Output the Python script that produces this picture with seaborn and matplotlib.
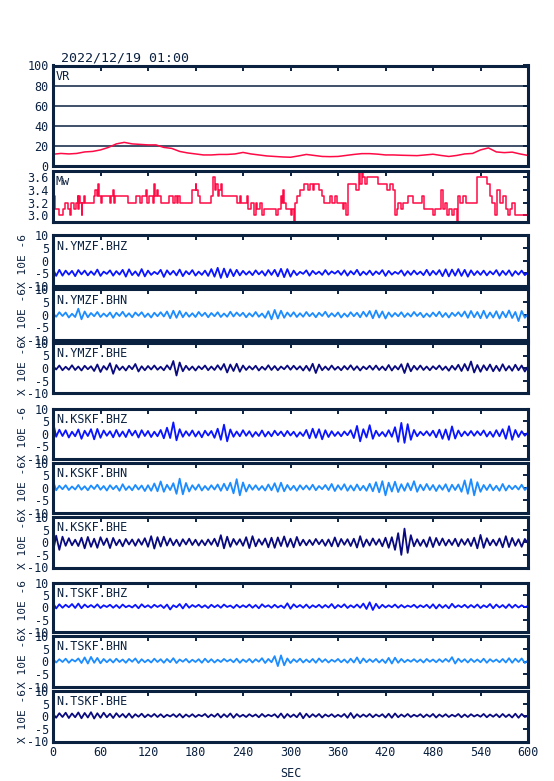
import numpy as np
import pandas as pd
import matplotlib
matplotlib.use("Agg")
import matplotlib.pyplot as plt
import seaborn as sns

# ---- data ----
title = "2022/12/19 01:00"
sec_ticks = [0, 60, 120, 180, 240, 300, 360, 420, 480, 540, 600]

# variance reduction, every 10 s
vr_time = list(range(0, 601, 10))
vr_values = [11.7, 12.5, 12.0, 12.5, 14.0, 14.5, 16.0, 18.5, 22.0, 23.5,
             22.0, 21.5, 21.0, 21.0, 18.5, 17.5, 14.5, 13.0, 12.0, 11.0,
             11.0, 11.5, 11.5, 12.0, 13.5, 12.0, 11.0, 10.0, 9.5, 9.0,
             8.7, 10.0, 11.5, 10.5, 9.5, 9.3, 9.5, 10.5, 11.5, 12.3,
             12.3, 11.8, 11.0, 11.0, 10.7, 10.5, 10.3, 11.0, 11.7, 10.5,
             9.5, 10.5, 12.0, 12.5, 16.0, 18.0, 14.0, 13.3, 13.8, 12.0,
             10.5]

# moment magnitude, step series (change times and values)
mw_time = [0, 1, 2, 8, 12, 15, 19, 21, 23, 27, 29, 31, 32, 33, 34, 36, 37, 39, 40, 52,
           53, 55, 57, 58, 60, 62, 72, 73, 76, 77, 78, 95, 105, 110, 112, 118, 119, 121, 126, 128,
           129, 131, 132, 136, 146, 152, 154, 156, 158, 160, 176, 180, 181, 183, 186, 200, 202, 204, 206, 208,
           210, 212, 214, 233, 236, 238, 245, 246, 250, 254, 256, 258, 262, 264, 266, 282, 284, 288, 289, 291,
           292, 294, 300, 302, 304, 306, 308, 312, 317, 322, 324, 328, 330, 336, 340, 342, 350, 352, 356, 359,
           366, 368, 370, 372, 383, 386, 388, 390, 392, 394, 396, 410, 422, 426, 430, 432, 434, 436, 440, 442,
           449, 455, 466, 468, 480, 482, 490, 492, 495, 498, 500, 504, 506, 510, 511, 514, 518, 522, 535, 548,
           552, 555, 558, 561, 565, 568, 572, 575, 577, 580, 583, 600]
mw_values = [3.7, 3.3, 3.1, 3.0, 3.1, 3.2, 3.1, 3.0, 3.2, 3.1, 3.2, 3.3, 3.1, 3.3, 3.2, 3.0, 3.2, 3.3, 3.2, 3.3,
             3.4, 3.3, 3.5, 3.3, 3.2, 3.3, 3.2, 3.3, 3.4, 3.2, 3.3, 3.2, 3.3, 3.2, 3.3, 3.4, 3.2, 3.3, 3.2, 3.5,
             3.3, 3.4, 3.3, 3.2, 3.3, 3.2, 3.3, 3.2, 3.3, 3.2, 3.4, 3.5, 3.4, 3.3, 3.2, 3.3, 3.6, 3.4, 3.5, 3.3,
             3.4, 3.5, 3.3, 3.2, 3.3, 3.2, 3.3, 3.1, 3.2, 3.0, 3.2, 3.1, 3.2, 3.0, 3.1, 3.0, 3.1, 3.3, 3.2, 3.4,
             3.2, 3.1, 3.0, 3.1, 2.9, 3.2, 3.3, 3.4, 3.5, 3.4, 3.5, 3.4, 3.5, 3.4, 3.3, 3.2, 3.3, 3.2, 3.3, 3.2,
             3.1, 3.2, 3.0, 3.5, 3.4, 3.7, 3.5, 3.7, 3.6, 3.5, 3.6, 3.5, 3.4, 3.5, 3.4, 3.0, 3.1, 3.2, 3.1, 3.2,
             3.3, 3.2, 3.3, 3.1, 3.0, 3.1, 3.4, 3.1, 3.2, 3.0, 3.1, 3.0, 3.1, 2.9, 3.3, 3.2, 3.3, 3.2, 3.6, 3.5,
             3.3, 3.2, 3.0, 3.4, 3.2, 3.3, 3.1, 3.0, 3.1, 3.2, 3.0, 3.0]

# waveforms (X 10E -6), one sample every 4 s
sample_step = 4
ymzf_bhz = [-3.2, -6.0, -3.6, -5.9, -3.9, -5.5, -4.0, -6.1, -3.7, -5.4,
            -3.9, -5.8, -4.2, -5.6, -3.5, -6.0, -4.3, -5.2, -3.8, -5.9,
            -4.1, -5.5, -3.6, -6.3, -3.4, -5.7, -4.2, -6.0, -3.3, -6.2,
            -3.9, -5.6, -4.4, -5.3, -3.6, -6.4, -3.8, -5.5, -4.0, -5.8,
            -3.5, -6.1, -4.1, -5.4, -3.7, -5.9, -4.3, -5.6, -3.9, -6.0,
            -3.3, -6.3, -2.8, -6.8, -3.1, -6.5, -3.4, -6.1, -3.6, -5.8,
            -4.0, -5.5, -4.2, -5.7, -3.8, -5.4, -4.1, -5.9, -3.7, -5.6,
            -3.6, -6.2, -3.2, -6.5, -3.3, -6.3, -3.9, -5.7, -4.4, -5.2,
            -3.8, -5.9, -4.0, -5.3, -4.3, -5.6, -3.7, -5.5, -4.2, -5.1,
            -4.0, -5.6, -3.8, -5.9, -4.1, -5.4, -3.6, -5.8, -4.3, -5.5,
            -3.9, -5.7, -4.2, -5.3, -3.7, -6.0, -4.0, -5.5, -4.4, -5.2,
            -3.8, -5.9, -4.1, -5.6, -3.9, -5.4, -4.3, -5.7, -3.6, -5.8,
            -4.0, -5.5, -3.7, -6.1, -3.4, -6.2, -3.5, -5.9, -3.3, -6.0,
            -3.6, -6.3, -3.8, -5.7, -4.1, -5.6, -3.9, -5.8, -4.2, -5.4,
            -3.7, -5.9, -4.0, -5.6, -3.8, -6.0, -4.1, -5.5, -3.9, -5.7, -4.6]
ymzf_bhn = [0.6, -0.8, 1.0, -0.5, 0.9, -1.1, 0.4, -0.9, 2.4, -1.8,
            1.3, -1.0, 0.7, -0.6, 1.1, -0.9, 0.5, -0.7, 0.9, -1.2,
            0.8, -0.5, 1.2, -0.8, 0.6, -1.0, 0.9, -0.4, 1.0, -0.9,
            0.5, -1.1, 0.8, -0.6, 1.0, -0.7, 1.3, -1.4, 1.6, -1.2,
            1.5, -1.0, 0.9, -0.8, 0.6, -0.9, 1.1, -0.5, 0.8, -1.0,
            0.7, -0.6, 1.0, -0.9, 0.5, -0.8, 1.2, -0.7, 0.9, -0.5,
            0.8, -1.0, 0.6, -0.7, 1.1, -0.8, 0.5, -1.2, 1.4, -1.8,
            1.9, -1.5, 1.6, -1.2, 0.9, -0.7, 1.0, -0.9, 0.6, -0.8,
            1.1, -0.6, 0.7, -1.0, 0.8, -0.5, 1.2, -0.9, 0.6, -0.7,
            0.9, -1.1, 0.5, -0.8, 1.0, -0.6, 0.8, -1.0, 1.2, -0.7,
            1.5, -1.4, 1.7, -1.1, 1.3, -1.5, 0.9, -0.8, 0.7, -0.6,
            1.0, -0.9, 0.6, -0.7, 1.1, -0.5, 0.8, -1.0, 0.5, -0.8,
            0.9, -0.6, 1.2, -0.9, 0.7, -1.1, 0.8, -0.5, 1.0, -0.7,
            1.3, -1.2, 1.5, -1.0, 1.1, -1.4, 1.6, -1.3, 0.9, -1.1,
            1.4, -1.5, 1.2, -1.0, 1.7, -1.3, 1.1, -2.5, 1.5, -1.2, 0.3]
ymzf_bhe = [0.8, -0.6, 1.0, -0.9, 0.5, -0.7, 1.1, -0.8, 0.6, -1.0,
            0.9, -0.5, 0.7, -1.2, 1.4, -1.6, 0.8, -0.7, 1.9, -2.3,
            1.2, -0.8, 0.6, -1.0, 0.9, -0.5, 1.6, -1.4, 0.7, -0.9,
            0.8, -0.6, 1.0, -0.7, 0.5, -0.9, 1.1, -0.6, 2.8, -3.0,
            2.2, -1.3, 0.9, -0.8, 0.6, -1.0, 0.7, -0.5, 1.0, -0.9,
            0.6, -0.8, 1.1, -0.7, 1.6, -1.8, 1.4, -1.2, 1.7, -1.5,
            1.0, -0.8, 0.7, -0.6, 0.9, -1.0, 0.5, -0.7, 1.1, -0.8,
            0.8, -0.9, 0.6, -0.5, 1.0, -0.7, 0.9, -0.6, 0.7, -1.0,
            0.9, -1.1, 1.7, -2.0, 1.4, -0.9, 0.6, -0.8, 1.0, -0.7,
            0.5, -0.9, 0.8, -0.6, 1.1, -0.8, 0.7, -1.0, 0.6, -0.5,
            0.9, -0.7, 1.0, -0.8, 0.6, -0.9, 1.2, -1.0, 0.8, -0.6,
            1.5, -2.0, 1.8, -1.3, 0.9, -0.7, 1.0, -0.8, 0.6, -0.9,
            0.7, -0.5, 1.0, -0.8, 0.6, -1.1, 0.9, -0.7, 1.3, -1.2,
            1.6, -1.0, 2.6, -1.8, 1.2, -1.5, 1.1, -0.9, 1.4, -1.3,
            0.9, -1.2, 1.5, -1.0, 0.8, -1.1, 1.3, -0.9, 1.0, -1.4, 0.6]
kskf_bhz = [4.8, -1.2, 1.6, -0.9, 1.4, -1.5, 0.8, -1.0, 1.7, -2.0,
            1.2, -0.9, 1.8, -2.2, 1.9, -1.6, 1.3, -0.8, 1.0, -1.4,
            1.5, -1.1, 0.9, -1.3, 1.6, -0.7, 1.2, -1.5, 1.4, -0.9,
            1.1, -1.3, 0.8, -1.0, 1.5, -1.8, 2.4, -1.7, 4.5, -2.6,
            1.8, -1.2, 1.0, -0.8, 1.3, -1.1, 0.9, -1.4, 1.2, -0.7,
            1.1, -1.6, 2.0, -2.4, 3.6, -3.0, 1.7, -1.2, 0.9, -1.0,
            1.4, -0.8, 1.0, -1.2, 0.7, -0.9, 1.3, -1.1, 0.8, -1.0,
            1.2, -0.6, 0.9, -1.0, 1.1, -0.7, 0.8, -1.2, 0.6, -0.9,
            1.5, -1.8, 2.0, -1.6, 1.8, -2.2, 1.4, -1.3, 1.0, -0.9,
            0.7, -1.0, 0.9, -0.6, 1.4, -1.7, 3.1, -3.0, 1.8, -1.5,
            3.4, -2.0, 1.2, -0.9, 0.7, -1.1, 1.4, -1.2, 2.6, -3.2,
            4.3, -3.6, 3.8, -2.4, 1.5, -1.0, 0.8, -0.6, 1.0, -0.8,
            1.2, -1.4, 1.6, -2.0, 1.7, -2.4, 2.9, -1.9, 1.3, -1.0,
            0.9, -0.7, 1.1, -0.8, 1.0, -0.6, 1.3, -1.1, 0.8, -1.2,
            1.4, -1.0, 1.8, -2.0, 3.0, -2.4, 1.5, -1.3, 1.0, -0.8, 0.5]
kskf_bhn = [2.8, -1.0, 0.8, -0.6, 1.0, -0.9, 0.5, -0.7, 1.1, -0.8,
            0.6, -1.0, 0.9, -0.5, 1.2, -0.8, 0.7, -1.1, 1.0, -0.6,
            0.8, -1.2, 1.4, -0.9, 0.6, -1.0, 1.1, -0.7, 0.9, -1.3,
            1.0, -1.2, 1.7, -1.4, 2.5, -1.6, 1.2, -0.9, 1.8, -2.4,
            3.6, -2.6, 1.9, -1.5, 1.0, -0.8, 1.3, -1.1, 0.7, -0.9,
            1.0, -0.7, 1.3, -1.2, 1.6, -1.0, 2.0, -2.2, 3.4, -3.0,
            2.1, -1.5, 1.2, -0.8, 1.0, -0.9, 0.7, -1.1, 1.3, -1.0,
            1.8, -1.6, 2.0, -1.4, 1.1, -0.9, 0.8, -1.2, 1.0, -0.7,
            0.9, -0.8, 1.2, -1.0, 0.7, -0.6, 1.1, -0.9, 1.5, -1.3,
            1.0, -0.8, 1.4, -1.2, 0.9, -1.1, 1.3, -1.0, 0.8, -1.2,
            1.6, -1.4, 2.2, -1.8, 2.6, -3.0, 2.0, -1.5, 2.4, -1.7,
            1.4, -1.2, 1.8, -1.0, 2.6, -1.6, 1.2, -1.0, 1.5, -0.9,
            1.1, -1.3, 1.0, -0.8, 1.4, -1.5, 1.2, -0.9, 1.3, -1.6,
            2.9, -2.4, 3.4, -3.0, 2.2, -1.6, 1.1, -0.9, 1.3, -1.0,
            0.8, -1.2, 1.5, -1.1, 0.9, -0.6, 0.8, -0.7, 1.2, -0.9, 0.4]
kskf_bhe = [-3.8, 2.6, -3.0, 2.2, -1.4, 1.6, -1.2, 1.0, -1.5, 1.8,
            -2.4, 2.1, -1.8, 1.4, -2.2, 2.0, -1.1, 1.5, -2.3, 1.7,
            -1.2, 1.0, -1.6, 1.3, -0.9, 1.1, -1.4, 1.2, -1.0, 1.6,
            -1.8, 2.4, -2.5, 2.0, -1.7, 2.2, -1.3, 1.5, -1.2, 1.0,
            -1.5, 1.2, -0.9, 1.4, -1.1, 1.0, -1.3, 0.8, -1.2, 1.1,
            -1.0, 1.4, -1.6, 2.8, -2.4, 2.2, -1.8, 1.3, -1.0, 1.2,
            -1.4, 2.0, -2.3, 2.4, -1.6, 1.2, -1.0, 1.5, -2.0, 1.8,
            -2.2, 1.9, -1.5, 2.3, -1.8, 1.4, -2.0, 2.1, -1.3, 1.0,
            -1.2, 0.9, -1.1, 1.3, -0.8, 1.0, -1.4, 1.1, -1.6, 1.9,
            -1.7, 1.3, -1.0, 1.2, -1.5, 1.4, -2.1, 2.4, -1.8, 1.1,
            -1.3, 1.5, -1.0, 1.2, -1.6, 1.8, -2.2, 2.0, -3.0, 3.6,
            -5.0, 5.4, -4.2, 2.8, -1.6, 1.2, -1.4, 1.0, -1.8, 2.0,
            -1.9, 1.7, -1.2, 1.5, -1.3, 1.0, -1.1, 1.4, -1.6, 1.2,
            -1.0, 1.3, -1.5, 1.8, -2.4, 2.9, -2.2, 1.6, -1.2, 1.0,
            -1.3, 1.5, -2.0, 2.4, -1.9, 1.7, -1.4, 1.2, -1.8, 1.3, -0.4]
tskf_bhz = [1.8, -0.5, 1.2, -0.2, 1.0, 0.0, 1.3, -0.3, 1.5, -0.4,
            1.1, 0.0, 0.9, -0.1, 1.2, -0.3, 0.8, 0.1, 1.0, -0.2,
            0.9, -0.3, 1.1, 0.0, 0.7, -0.1, 1.0, -0.4, 1.2, 0.0,
            0.8, -0.2, 1.0, 0.1, 0.9, -0.3, 1.1, -0.9, 0.8, 0.0,
            1.3, -0.5, 1.4, -0.2, 0.9, 0.1, 1.0, -0.1, 0.8, -0.3,
            1.0, 0.0, 0.9, -0.2, 1.1, 0.1, 0.7, -0.3, 1.0, -0.1,
            0.8, 0.0, 1.1, -0.2, 0.9, -0.4, 1.2, 0.1, 0.8, -0.2,
            1.0, -0.1, 0.7, -0.3, 1.6, -0.6, 1.2, 0.0, 0.9, -0.2,
            1.1, -0.3, 0.8, 0.0, 1.0, -0.2, 0.9, -0.1, 1.3, -0.4,
            0.9, 0.0, 1.2, -0.3, 0.8, -0.1, 1.1, -0.2, 1.5, -0.7,
            2.0, -1.1, 1.4, -0.4, 1.0, -0.1, 0.8, 0.0, 1.1, -0.2,
            0.9, -0.1, 0.7, 0.1, 1.0, -0.2, 0.8, 0.0, 1.0, -0.3,
            1.2, -0.5, 1.1, -0.2, 0.9, -0.4, 1.4, -0.1, 0.8, 0.0,
            1.0, -0.2, 0.9, -0.1, 1.1, -0.3, 0.8, 0.0, 1.3, -0.4,
            1.1, -0.1, 0.9, -0.3, 1.2, -0.2, 1.0, -0.1, 0.8, 0.0, 0.5]
tskf_bhn = [1.0, -0.4, 0.9, -0.2, 1.1, -0.5, 0.8, 0.0, 1.2, -0.6,
            1.6, -0.8, 1.8, -0.5, 1.4, -0.7, 1.0, -0.3, 0.9, -0.4,
            1.1, -0.2, 0.8, -0.5, 1.0, -0.1, 1.2, -0.6, 0.9, -0.3,
            0.7, -0.4, 1.1, -0.2, 0.9, -0.5, 1.0, -0.3, 1.3, -0.6,
            0.8, -0.1, 1.0, -0.4, 0.7, -0.2, 0.9, -0.5, 1.1, -0.3,
            0.9, -0.4, 0.7, -0.2, 1.0, 0.0, 0.8, -0.3, 1.1, -0.5,
            0.8, -0.2, 1.0, -0.4, 0.9, -0.1, 1.3, -0.6, 1.0, -0.3,
            2.1, -1.8, 2.4, -1.5, 1.2, -0.6, 0.9, -0.2, 1.1, -0.4,
            0.8, -0.3, 1.0, -0.5, 1.2, -0.2, 0.9, -0.4, 0.7, -0.1,
            1.0, -0.3, 0.8, -0.5, 1.1, -0.4, 1.6, -0.7, 1.2, -0.3,
            0.9, -0.2, 1.0, -0.4, 0.8, -0.6, 1.4, -0.8, 1.5, -0.5,
            1.0, -0.3, 0.7, -0.1, 0.9, -0.2, 0.8, -0.4, 1.0, -0.1,
            0.8, -0.3, 0.9, -0.2, 1.0, -0.1, 1.7, -0.8, 1.1, -0.2,
            0.9, -0.4, 1.0, -0.2, 0.8, -0.3, 1.1, -0.5, 0.9, -0.1,
            0.8, -0.3, 1.0, -0.4, 1.3, -0.5, 1.1, -0.2, 1.2, -0.6, 0.4]
tskf_bhe = [1.0, -0.6, 1.2, -0.3, 1.4, -0.7, 1.1, -0.4, 1.5, -0.8,
            1.3, -0.5, 1.6, -0.9, 1.2, -0.6, 1.4, -0.4, 1.0, -0.7,
            1.2, -0.3, 0.9, -0.5, 1.1, -0.6, 0.8, -0.2, 1.0, -0.4,
            0.7, -0.2, 0.9, -0.3, 0.8, -0.4, 0.6, -0.1, 0.8, -0.3,
            0.9, -0.5, 0.7, -0.2, 0.8, -0.3, 0.6, 0.0, 0.9, -0.4,
            0.7, -0.2, 1.0, -0.5, 0.8, -0.3, 1.1, -0.6, 0.9, -0.2,
            0.6, -0.3, 0.8, -0.1, 0.7, -0.4, 0.9, -0.2, 0.6, 0.0,
            0.8, -0.5, 1.1, -0.7, 0.9, -0.3, 0.7, -0.4, 1.3, -0.8,
            1.0, -0.4, 0.8, -0.2, 0.9, -0.5, 0.7, -0.1, 0.8, -0.3,
            0.6, -0.2, 0.9, -0.6, 1.3, -0.7, 0.8, -0.3, 0.7, -0.2,
            0.9, -0.4, 0.7, -0.1, 0.8, -0.5, 1.0, -0.6, 1.1, -0.4,
            0.7, -0.2, 0.9, -0.3, 0.6, -0.1, 0.8, -0.4, 0.7, -0.2,
            0.9, -0.5, 0.7, -0.2, 0.8, -0.3, 0.6, -0.1, 0.9, -0.4,
            0.7, -0.3, 0.8, -0.1, 0.6, -0.2, 0.9, -0.4, 0.7, -0.2,
            0.8, -0.4, 0.9, -0.3, 0.7, -0.5, 1.0, -0.6, 0.9, -0.3, 0.2]

channels = ["N.YMZF.BHZ", "N.YMZF.BHN", "N.YMZF.BHE",
            "N.KSKF.BHZ", "N.KSKF.BHN", "N.KSKF.BHE",
            "N.TSKF.BHZ", "N.TSKF.BHN", "N.TSKF.BHE"]
traces = [ymzf_bhz, ymzf_bhn, ymzf_bhe, kskf_bhz, kskf_bhn, kskf_bhe,
          tskf_bhz, tskf_bhn, tskf_bhe]

# ---- style ----
navy = "#0b2140"
red = "#ff0a45"
comp_colors = {"BHZ": "#0a14ff", "BHN": "#1c8cff", "BHE": "#0a0a80"}

sns.set_style("white")
plt.rcParams["font.family"] = ["DejaVu Sans Mono"]
plt.rcParams["axes.unicode_minus"] = False

W, H = 554, 781
fig = plt.figure(figsize=(W / 100, H / 100), dpi=100)
fig.patch.set_facecolor("white")

left_px, right_px = 53, 528


def add_panel(top_px, bottom_px):
    return fig.add_axes([left_px / W, 1 - bottom_px / H,
                         (right_px - left_px) / W, (bottom_px - top_px) / H])


def style_panel(ax, ylim, yticks, ylabels, show_x=False):
    ax.set_xlim(0, 600)
    ax.set_ylim(*ylim)
    ax.set_xticks(sec_ticks)
    ax.set_yticks(yticks)
    ax.set_yticklabels(ylabels)
    ax.tick_params(direction="in", length=3.8, width=1.4, color=navy,
                   top=True, right=True, labelsize=8.5, labelcolor=navy, pad=3)
    if not show_x:
        ax.set_xticklabels([])
    for s in ax.spines.values():
        s.set_linewidth(2.2)
        s.set_color(navy)
    ax.set_xlabel("")
    ax.set_ylabel("")


def panel_label(ax, text):
    ax.annotate(text, xy=(0, 1), xycoords="axes fraction", xytext=(2, -3),
                textcoords="offset points", ha="left", va="top",
                fontsize=8.5, color=navy)


# VR panel
ax = add_panel(65.5, 166)
vr_df = pd.DataFrame({"sec": vr_time, "vr": vr_values})
sns.lineplot(data=vr_df, x="sec", y="vr", ax=ax, color=red, linewidth=1.1,
             estimator=None)
style_panel(ax, (0, 100), [0, 20, 40, 60, 80, 100],
            ["0", "20", "40", "60", "80", "100"])
ax.yaxis.grid(True, color=navy, linewidth=1.1)
panel_label(ax, "VR")
fig.text(61 / W, 1 - 58 / H, title, fontsize=9.5, color=navy,
         ha="left", va="center")

# Mw panel
ax = add_panel(171, 221.5)
mw_df = pd.DataFrame({"sec": mw_time, "mw": mw_values})
sns.lineplot(data=mw_df, x="sec", y="mw", ax=ax, color=red, linewidth=1.1,
             estimator=None, drawstyle="steps-post")
style_panel(ax, (2.9, 3.7), [3.0, 3.2, 3.4, 3.6], ["3.0", "3.2", "3.4", "3.6"])
panel_label(ax, "Mw")

# waveform panels
wave_rows = [(235.5, 286), (289.5, 340), (343, 393),
             (408.5, 459), (462.5, 513), (517, 567.5),
             (582.5, 632), (636, 687), (691, 741.5)]

for i, (name, values) in enumerate(zip(channels, traces)):
    top_px, bottom_px = wave_rows[i]
    ax = add_panel(top_px, bottom_px)
    df = pd.DataFrame({"sec": np.arange(len(values)) * sample_step, "amp": values})
    sns.lineplot(data=df, x="sec", y="amp", ax=ax,
                 color=comp_colors[name.split(".")[-1]], linewidth=1.3,
                 estimator=None)
    last = i == len(channels) - 1
    style_panel(ax, (-10, 10), [-10, -5, 0, 5, 10],
                ["-10", "-5", "0", "5", "10"], show_x=last)
    panel_label(ax, name)
    fig.text(23 / W, 1 - (top_px + bottom_px) / 2 / H, "X 10E -6",
             rotation=90, fontsize=8, color=navy, ha="center", va="center")
    if last:
        ax.set_xlabel("SEC", fontsize=8.5, color=navy, labelpad=6)

fig.savefig("out.png", dpi=100, facecolor="white")
